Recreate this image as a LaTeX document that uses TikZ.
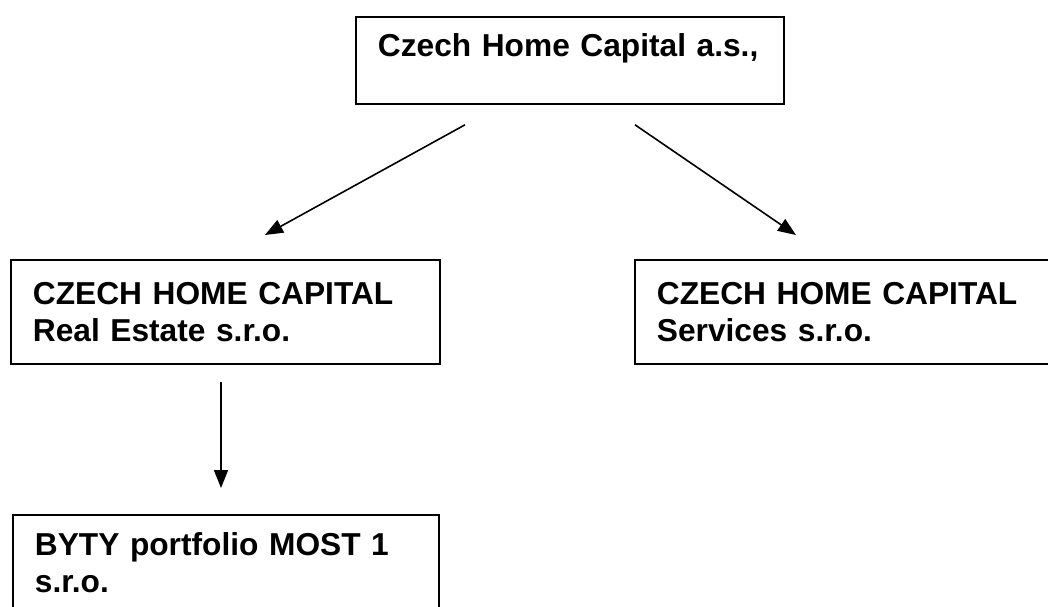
\documentclass[tikz,border=0pt]{standalone}
\usepackage{fontspec}
\setmainfont{Liberation Sans}
\usetikzlibrary{arrows.meta}

\newcommand{\orgfont}{\fontsize{31.7pt}{37pt}\selectfont\bfseries}

\begin{document}
\begin{tikzpicture}[
    x=1pt, y=-1pt,
    orgbox/.style={rectangle, draw, line width=1.8pt, anchor=north west, align=left, inner xsep=22pt, inner ysep=0pt, font=\orgfont},
    link/.style={line width=1.6pt, -{Triangle[length=18pt, width=14pt]}},
]
    \useasboundingbox (0,0) rectangle (1048,606);
    \clip (0,0) rectangle (1048,606);
    \node[orgbox, text width=384pt, minimum height=87pt, text depth=30pt] (chc) at (355,16) {Czech Home Capital a.s.,};
    \node[orgbox, text width=385pt, minimum height=104pt] (realestate) at (10,259) {CZECH HOME CAPITAL\\Real Estate s.r.o.};
    \node[orgbox, text width=385pt, minimum height=104pt] (services) at (634,259) {CZECH HOME CAPITAL\\Services s.r.o.};
    \node[orgbox, text width=382pt, minimum height=96pt] (most) at (12,514) {BYTY portfolio MOST 1\\s.r.o.};
    % connectors
    \draw[link] ([shift={(110,20)}]chc.south west) -- ([shift={(255,-24)}]realestate.north west);
    \draw[link] ([shift={(280,20)}]chc.south west) -- ([shift={(162,-24)}]services.north west);
    \draw[link] ([shift={(211,17)}]realestate.south west) -- ([shift={(209,-26)}]most.north west);
\end{tikzpicture}
\end{document}
